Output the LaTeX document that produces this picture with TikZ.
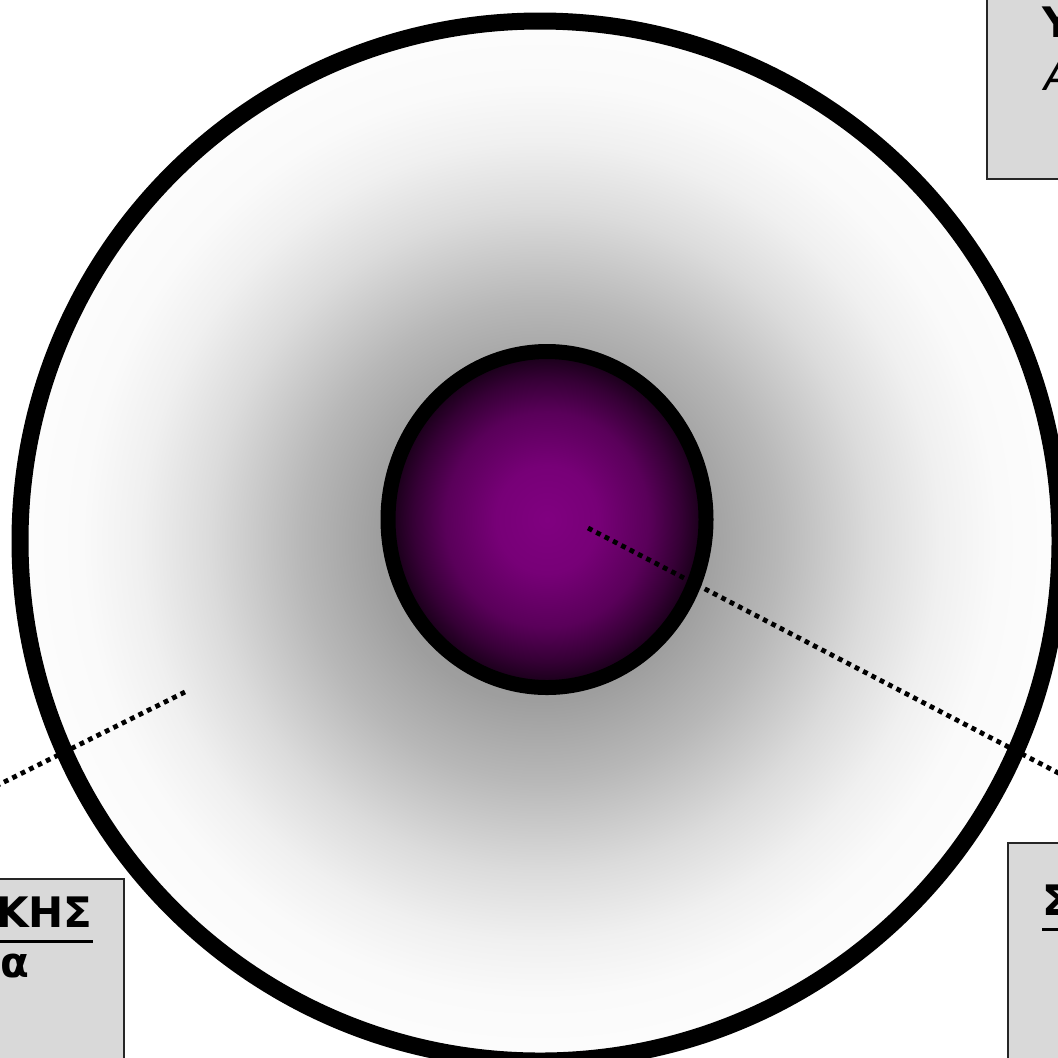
\documentclass[tikz,border=0pt]{standalone}
\usepackage{fontspec}
\setmainfont{DejaVu Sans}
\definecolor{corepurple}{RGB}{128,0,128}
\definecolor{boxgray}{RGB}{217,217,217}
\pgfdeclareradialshading{shellshade}{\pgfpoint{0bp}{0bp}}{%
  color(0bp)=(black!45); color(7.7bp)=(black!38); color(11.5bp)=(black!28);
  color(15.9bp)=(black!14); color(19.2bp)=(black!6); color(22bp)=(black!2);
  color(25bp)=(black!1); color(50bp)=(black!1)}
\pgfdeclareradialshading{coreshade}{\pgfpoint{0bp}{0bp}}{%
  color(0bp)=(corepurple); color(8bp)=(corepurple!93!black);
  color(16bp)=(corepurple!70!black); color(21bp)=(corepurple!42!black);
  color(25bp)=(corepurple!15!black); color(50bp)=(black)}
\newcommand{\ultext}[1]{\setbox0=\hbox{#1}\rlap{\rule[-8pt]{\wd0}{1.5pt}}\box0}

\begin{document}
\begin{tikzpicture}[x=0.5pt, y=-0.5pt,
    labelbox/.style={draw=black!85, line width=1pt, fill=boxgray},
    pointer/.style={line width=2.4pt, dash pattern=on 2.4pt off 2.3pt, black},
    boxtext/.style={font=\fontsize{21}{25}\selectfont, inner sep=0pt, anchor=base west}
  ]
    \useasboundingbox (0,0) rectangle (1058,1057);
    \clip (0,0) rectangle (1058,1057);

    % Outer shell
    \shade[shading=shellshade, draw=black, line width=8.5pt]
      (540,541) circle [x radius=520, y radius=520];

    % Core
    \shade[shading=coreshade, draw=black, line width=7.5pt]
      (547,519.5) circle [x radius=159, y radius=168];

    % Pointers
    \coordinate (coremark) at (588,528);
    \coordinate (coreend) at (1070,779);
    \coordinate (shellmark) at (185,692);
    \coordinate (shellend) at (-10,789);
    \draw[pointer] (coremark) -- (coreend);
    \draw[pointer] (shellmark) -- (shellend);

    % Label boxes
    \draw[labelbox] (987,-10) rectangle (1070,179);
    \draw[labelbox] (-10,879) rectangle (124,1070);
    \draw[labelbox] (1008,843) rectangle (1070,1070);

    % Box texts
    \node[boxtext, font=\fontsize{21}{25}\selectfont\bfseries] (trtitle) at (1042,37) {Υ};
    \node[boxtext, font=\fontsize{21}{25}\selectfont\itshape] (trline) at (1044,90) {Α};
    \node[boxtext, anchor=base east, font=\fontsize{21}{25}\selectfont\bfseries] (bltitle) at (93,927) {\ultext{ΚΗΣ}};
    \node[boxtext, font=\fontsize{21}{25}\selectfont\bfseries] (blline) at (0,977) {α};
    \node[boxtext, font=\fontsize{21}{25}\selectfont\bfseries] (brtitle) at (1042,915) {\ultext{Σ}};
  \end{tikzpicture}
\end{document}
